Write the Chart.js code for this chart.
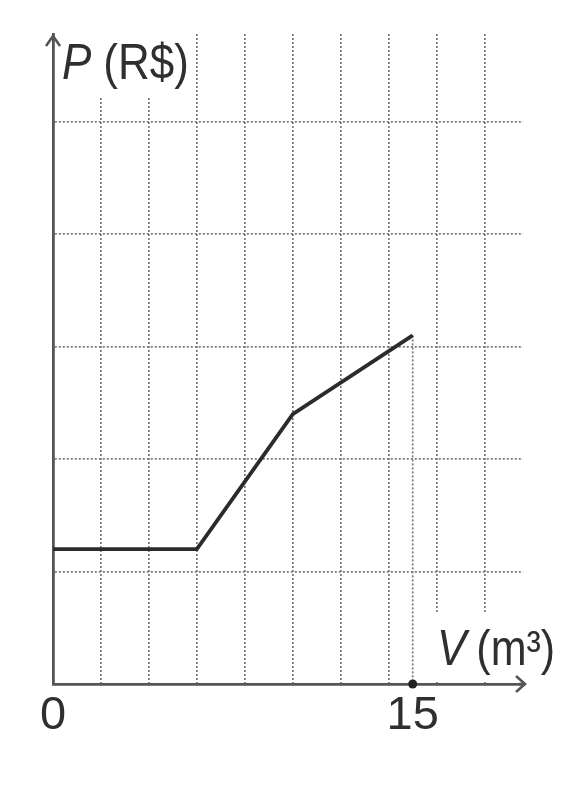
<!DOCTYPE html>
<html>
<head>
<meta charset="utf-8">
<script src="https://cdn.jsdelivr.net/npm/chart.js@4.4.1/dist/chart.umd.min.js"></script>
<style>
  html, body { margin: 0; padding: 0; background: #fff; }
  #wrap { width: 587px; height: 799px; position: relative; }
</style>
</head>
<body>
<div id="wrap"><canvas id="priceChart"></canvas></div>
<script>
// Values (P has no printed scale, so y is in grid squares)
const volumes = [0, 6, 10, 15];
const prices = [1.2, 1.2, 2.4, 3.1];
const dropVolumes = [15, 15];
const dropPrices = [3.1, 0];
const labeledTicks = [0, 15];
const xGridStep = 2;
const xMax = 19.6;
const yMax = 5.78;

const textFont = "'Liberation Sans', Arial, sans-serif";
const textColor = '#2f2f2f';
const gridColor = '#777';
const axisColor = '#555';

document.addEventListener("DOMContentLoaded", function() {
    // the picture's lettering is a bit narrow, so squeeze it sideways
    function narrowText(ctx, str, x, y, font, squeeze) {
        ctx.save();
        ctx.font = font;
        ctx.translate(x, y);
        ctx.scale(squeeze, 1);
        ctx.fillText(str, 0, 0);
        const w = ctx.measureText(str).width * squeeze;
        ctx.restore();
        return w;
    }

    // Arrows and axis names, drawn over the grid with a white patch behind
    const axisDecor = {
        id: 'axisDecor',
        afterDraw(chart) {
            const ctx = chart.ctx;
            const a = chart.chartArea;
            ctx.save();

            // white patches behind the axis names
            ctx.fillStyle = '#fff';
            ctx.fillRect(a.left + 3, a.top - 5, 137, 69);
            ctx.fillRect(426, 612, 150, a.bottom - 614);

            // arrow heads
            ctx.strokeStyle = axisColor;
            ctx.lineWidth = 2.6;
            ctx.lineJoin = 'miter';
            ctx.beginPath();
            ctx.moveTo(a.left - 7, a.top + 12);
            ctx.lineTo(a.left, a.top + 2);
            ctx.lineTo(a.left + 7, a.top + 12);
            ctx.moveTo(a.right - 4, a.bottom);
            ctx.lineTo(a.right + 2, a.bottom);
            ctx.moveTo(a.right - 7, a.bottom - 8);
            ctx.lineTo(a.right + 2, a.bottom);
            ctx.lineTo(a.right - 7, a.bottom + 8);
            ctx.stroke();

            // axis names
            ctx.fillStyle = textColor;
            ctx.textBaseline = 'alphabetic';
            ctx.textAlign = 'left';
            let x = a.left + 9;
            let y = a.top + 45;
            x += narrowText(ctx, 'P', x, y, 'italic 50px ' + textFont, 0.88) + 12;
            narrowText(ctx, '(R$)', x, y, '50px ' + textFont, 0.88);

            x = 437;
            y = a.bottom - 19;
            x += narrowText(ctx, 'V', x, y, 'italic 50px ' + textFont, 0.88) + 10;
            narrowText(ctx, '(m³)', x, y, '50px ' + textFont, 0.86);

            ctx.restore();
        }
    };

    new Chart(document.getElementById('priceChart').getContext('2d'), {
        type: 'line',
        data: {
            datasets: [
                {
                    label: 'P',
                    data: volumes.map((v, i) => ({ x: v, y: prices[i] })),
                    borderColor: '#2b2b2b',
                    borderWidth: 3.8,
                    pointRadius: 0,
                    tension: 0,
                    fill: false
                },
                {
                    label: 'V = 15',
                    data: dropVolumes.map((v, i) => ({ x: v, y: dropPrices[i] })),
                    borderColor: gridColor,
                    borderWidth: 1.7,
                    borderDash: [2, 2],
                    pointRadius: [0, 4.5],
                    pointBackgroundColor: '#222',
                    pointBorderWidth: 0,
                    clip: false,
                    fill: false
                }
            ]
        },
        options: {
            responsive: true, maintainAspectRatio: false,
            animation: false,
            layout: { padding: { left: 53, right: 64, top: 34, bottom: 0 } },
            plugins: { legend: { display: false }, tooltip: { enabled: false } },
            scales: {
                x: {
                    type: 'linear', min: 0, max: xMax,
                    ticks: {
                        stepSize: 1, autoSkip: false, maxRotation: 0, padding: 4,
                        color: textColor,
                        font: { family: textFont, size: 47 },
                        callback: (v) => labeledTicks.includes(v) ? String(v) : ''
                    },
                    grid: {
                        drawTicks: false, lineWidth: 1.7,
                        color: (c) => (c.tick && c.tick.value > 0 && c.tick.value % xGridStep === 0) ? gridColor : 'rgba(0,0,0,0)'
                    },
                    border: { color: axisColor, width: 2.8, dash: [2, 2] },
                    afterFit: (s) => { s.height = 115; s.paddingLeft = 0; s.paddingRight = 0; }
                },
                y: {
                    type: 'linear', min: 0, max: yMax,
                    ticks: { display: false, stepSize: 1 },
                    grid: {
                        drawTicks: false, lineWidth: 1.7,
                        color: (c) => (c.tick && c.tick.value > 0 && Number.isInteger(c.tick.value)) ? gridColor : 'rgba(0,0,0,0)'
                    },
                    border: { color: axisColor, width: 2.8, dash: [2, 2] },
                    afterFit: (s) => { s.width = 0; s.paddingTop = 0; s.paddingBottom = 0; }
                }
            }
        },
        plugins: [axisDecor]
    });
});
</script>
</body>
</html>
